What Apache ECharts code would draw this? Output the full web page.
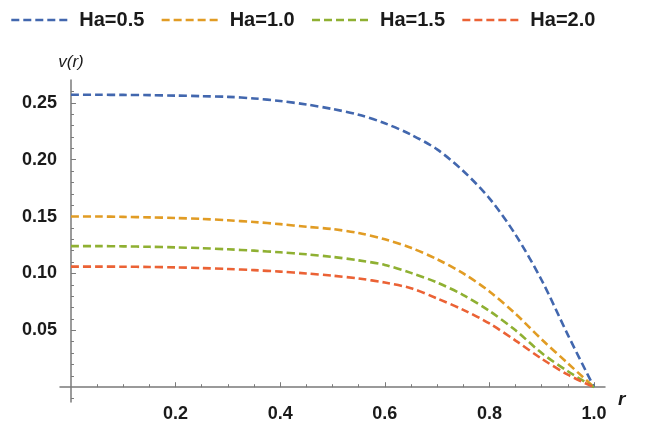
<!DOCTYPE html>
<html>
<head>
<meta charset="utf-8">
<script src="https://cdn.jsdelivr.net/npm/echarts@6/dist/echarts.min.js"></script>
<style>
html,body{margin:0;padding:0;background:#fff;}
#chart{width:647px;height:423px;}
</style>
</head>
<body>
<div id="chart"></div>
<script>
// ---- data ----
var rValues = [0, 0.05, 0.1, 0.15, 0.2, 0.25, 0.3, 0.35, 0.4, 0.45, 0.5,
               0.55, 0.6, 0.65, 0.7, 0.75, 0.8, 0.85, 0.9, 0.95, 1.0];
var ha05 = [0.257, 0.257, 0.2569, 0.2567, 0.2563, 0.2558, 0.2552, 0.2538, 0.2515, 0.2485, 0.2445,
            0.2395, 0.232, 0.222, 0.209, 0.190, 0.166, 0.134, 0.094, 0.046, 0];
var ha10 = [0.150, 0.150, 0.1497, 0.1493, 0.1487, 0.1479, 0.1467, 0.1452, 0.1433, 0.1410, 0.139,
            0.1355, 0.130, 0.1225, 0.1125, 0.100, 0.0842, 0.0645, 0.042, 0.021, 0];
var ha15 = [0.124, 0.124, 0.1238, 0.1234, 0.1229, 0.1222, 0.1212, 0.1200, 0.1186, 0.1168, 0.1145,
            0.1115, 0.1075, 0.1005, 0.092, 0.081, 0.067, 0.050, 0.030, 0.014, 0];
var ha20 = [0.106, 0.106, 0.1059, 0.1057, 0.1053, 0.1047, 0.1039, 0.1029, 0.1016, 0.1000, 0.098,
            0.0955, 0.092, 0.087, 0.078, 0.068, 0.056, 0.041, 0.025, 0.011, 0];
var seriesNames = ['Ha=0.5', 'Ha=1.0', 'Ha=1.5', 'Ha=2.0'];
var xMajorTicks = [0.2, 0.4, 0.6, 0.8, 1.0];
var xMinorTicks = [0.05, 0.1, 0.15, 0.25, 0.3, 0.35, 0.45, 0.5, 0.55, 0.65, 0.7, 0.75, 0.85, 0.9, 0.95];
var yMajorTicks = [0.05, 0.10, 0.15, 0.20, 0.25];
var yMinorTicks = [-0.01, 0.01, 0.02, 0.03, 0.04, 0.06, 0.07, 0.08, 0.09, 0.11, 0.12, 0.13, 0.14,
                   0.16, 0.17, 0.18, 0.19, 0.21, 0.22, 0.23, 0.24, 0.26];
var xAxisTitle = 'r';
var yAxisTitle = 'v(r)';

var colors = ['#4267AE', '#E19C24', '#8FB032', '#EB6235'];
var allSeries = [ha05, ha10, ha15, ha20];

function pairs(vals) {
  return rValues.map(function (r, i) { return [r, vals[i]]; });
}

var xMin = -0.021, xMax = 1.021, yMin = -0.013, yMax = 0.27;
var axisColor = '#7a7a7a';
var fam = 'Liberation Sans, Arial, sans-serif';

var chart = echarts.init(document.getElementById('chart'));
chart.setOption({
  animation: false,
  color: colors,
  legend: {
    top: 5,
    left: 5,
    itemWidth: 58,
    itemHeight: 14,
    itemGap: 16,
    data: seriesNames,
    itemStyle: { opacity: 0 },
    lineStyle: { width: 2.6 },
    textStyle: { color: '#1a1a1a', fontSize: 20, fontWeight: 'bold', fontFamily: fam, padding: [0, 0, 0, 5] }
  },
  grid: { left: 60, right: 42, top: 80, bottom: 9, containLabel: false },
  graphic: [
    {
      type: 'text', left: 618, top: 390,
      style: { text: xAxisTitle, fontStyle: 'italic', fontWeight: 'bold', fontSize: 19, fill: '#1a1a1a', fontFamily: fam }
    }
  ],
  xAxis: [
    {
      type: 'value', min: xMin, max: xMax,
      axisLine: { onZero: true, onZeroAxisIndex: 0, lineStyle: { color: axisColor, width: 1.5 } },
      axisTick: { show: true, inside: true, length: 5, customValues: xMajorTicks, lineStyle: { color: axisColor, width: 1 } },
      axisLabel: { show: true, customValues: xMajorTicks, margin: 3, formatter: function (v) { return v.toFixed(1); }, color: '#1a1a1a', fontSize: 18, fontWeight: 'bold', fontFamily: fam },
      splitLine: { show: false }
    },
    {
      type: 'value', min: xMin, max: xMax, position: 'bottom',
      axisLine: { show: false, onZero: true, onZeroAxisIndex: 0 },
      axisTick: { show: true, inside: true, length: 3, customValues: xMinorTicks, lineStyle: { color: axisColor, width: 1 } },
      axisLabel: { show: false },
      splitLine: { show: false }
    }
  ],
  yAxis: [
    {
      type: 'value', min: yMin, max: yMax,
      axisLine: { show: true, onZero: true, onZeroAxisIndex: 0, lineStyle: { color: axisColor, width: 1.5 } },
      axisTick: { show: true, inside: true, length: 5, customValues: yMajorTicks, lineStyle: { color: axisColor, width: 1 } },
      axisLabel: { show: true, customValues: yMajorTicks, margin: 3, formatter: function (v) { return v.toFixed(2); }, color: '#1a1a1a', fontSize: 18, fontWeight: 'bold', fontFamily: fam },
      splitLine: { show: false },
      name: yAxisTitle, nameLocation: 'end', nameGap: 9,
      nameTextStyle: { fontStyle: 'italic', fontSize: 17, color: '#1a1a1a', fontFamily: fam, align: 'center' }
    },
    {
      type: 'value', min: yMin, max: yMax, position: 'left',
      axisLine: { show: false, onZero: true, onZeroAxisIndex: 0 },
      axisTick: { show: true, inside: true, length: 3, customValues: yMinorTicks, lineStyle: { color: axisColor, width: 1 } },
      axisLabel: { show: false },
      splitLine: { show: false }
    }
  ],
  series: allSeries.map(function (vals, i) {
    return {
      name: seriesNames[i],
      type: 'line',
      xAxisIndex: 0,
      yAxisIndex: 0,
      data: pairs(vals),
      smooth: 0.3,
      showSymbol: false,
      symbol: 'none',
      lineStyle: { color: colors[i], width: 2.6, type: [8, 4] },
      itemStyle: { color: colors[i] }
    };
  })
});
</script>
</body>
</html>
